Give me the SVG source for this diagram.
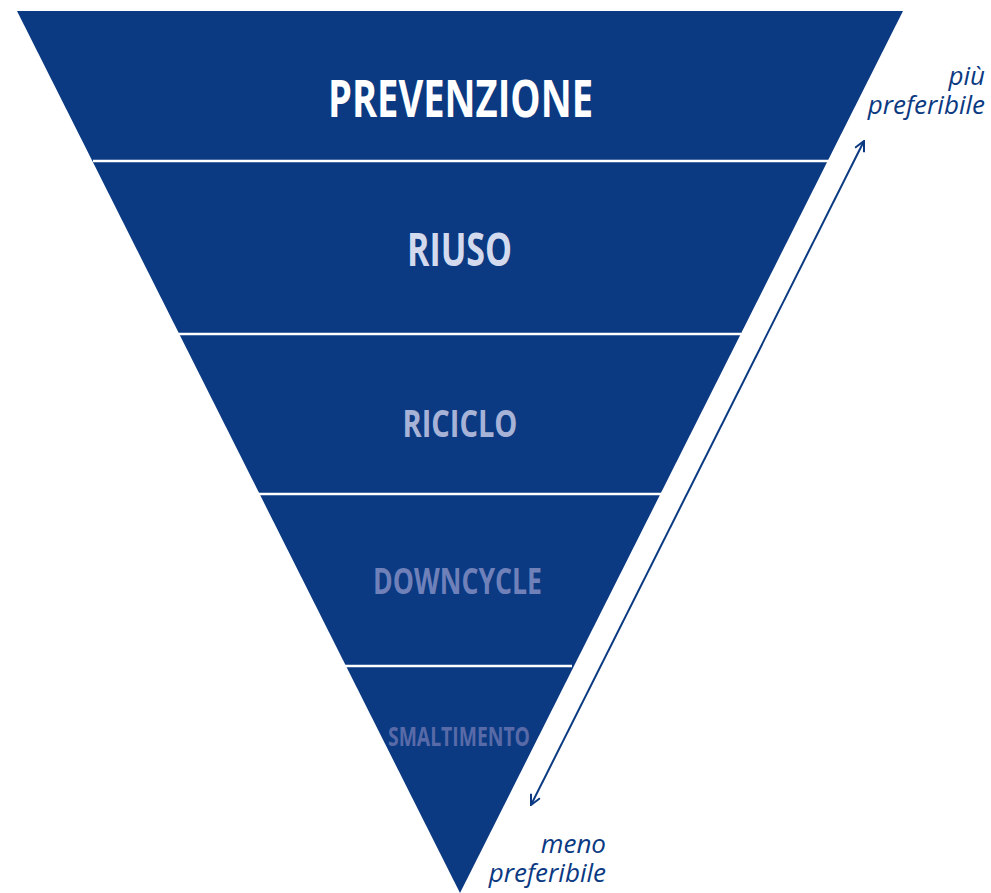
<svg xmlns="http://www.w3.org/2000/svg" width="991" height="893" viewBox="0 0 991 893">
  <defs>
    <marker id="arr" viewBox="0 0 12 12" refX="11" refY="6" markerWidth="12" markerHeight="12" markerUnits="userSpaceOnUse" orient="auto-start-reverse">
      <polyline points="1,1 11,6 1,11" fill="none" stroke="#0b3a82" stroke-width="2"/>
    </marker>
  </defs>
  <style>
    .lvl { font-family: "Open Sans", "Liberation Sans", sans-serif; font-weight: bold; text-anchor: middle; }
    .sep { stroke: #ffffff; stroke-width: 2.5; }
    .note { font-family: "Open Sans", "Liberation Sans", sans-serif; font-style: italic; font-size: 26px; fill: #0b3a82; text-anchor: end; }
  </style>
  <rect width="991" height="893" fill="#ffffff"/>
  <g id="pyramid">
    <polygon points="17,11 903,11 460,893" fill="#0b3a82"/>
  </g>
  <g id="separators">
    <line class="sep" x1="93" y1="161" x2="829" y2="161"/>
    <line class="sep" x1="177" y1="334" x2="741" y2="334"/>
    <line class="sep" x1="258" y1="494" x2="662" y2="494"/>
    <line class="sep" x1="345" y1="666" x2="572" y2="666"/>
  </g>
  <g id="prevenzione">
    <text class="lvl" x="460.5" y="117" font-size="52" fill="#ffffff" textLength="265" lengthAdjust="spacingAndGlyphs">PREVENZIONE</text>
  </g>
  <g id="riuso">
    <text class="lvl" x="459.5" y="266" font-size="46" fill="#d3daee" textLength="105" lengthAdjust="spacingAndGlyphs">RIUSO</text>
  </g>
  <g id="riciclo">
    <text class="lvl" x="460" y="437" font-size="38" fill="#a7b2d7" textLength="115" lengthAdjust="spacingAndGlyphs">RICICLO</text>
  </g>
  <g id="downcycle">
    <text class="lvl" x="457.5" y="594" font-size="36" fill="#7081ba" textLength="169" lengthAdjust="spacingAndGlyphs">DOWNCYCLE</text>
  </g>
  <g id="smaltimento">
    <text class="lvl" x="459" y="746" font-size="27" fill="#596aa8" textLength="142" lengthAdjust="spacingAndGlyphs">SMALTIMENTO</text>
  </g>
  <g id="connectors">
    <line x1="531" y1="805" x2="864" y2="141" stroke="#0b3a82" stroke-width="2" marker-start="url(#arr)" marker-end="url(#arr)"/>
  </g>
  <g id="labels">
    <text class="note"><tspan x="985" y="85">più</tspan><tspan x="985" y="114">preferibile</tspan></text>
    <text class="note"><tspan x="606" y="853">meno</tspan><tspan x="606" y="882">preferibile</tspan></text>
  </g>
</svg>
